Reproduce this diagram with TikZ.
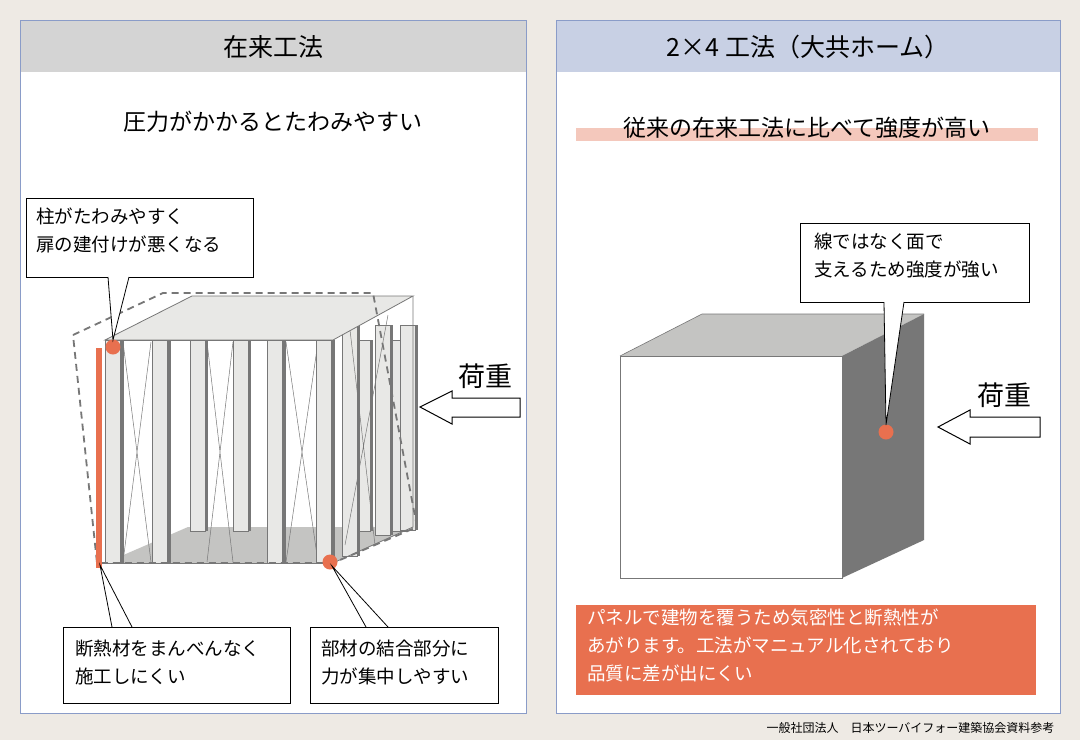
\documentclass[tikz,border=0pt]{standalone}
\usepackage{fontspec}
\setmainfont{Noto Sans CJK JP}
\usetikzlibrary{calc}
\definecolor{bgc}{HTML}{EEEAE4}
\definecolor{frm}{HTML}{8A9CC8}
\definecolor{hdl}{HTML}{D4D4D4}
\definecolor{hdr}{HTML}{C8D0E4}
\definecolor{acc}{HTML}{E8704F}
\definecolor{pnk}{HTML}{F4C8BC}
\definecolor{post}{HTML}{E8E8E6}
\definecolor{dpost}{HTML}{777777}
\definecolor{flr}{HTML}{C4C4C2}
\tikzset{
 callout/.style={draw=black,fill=white,line width=0.8pt},
 pst/.style={fill=post,draw=dpost,line width=0.6pt},
 dot/.style={circle,fill=acc,minimum size=15pt,inner sep=0pt},
 lbl/.style={font=\fontsize{18.5}{28}\selectfont,align=left,anchor=north west,inner sep=0pt},
}
\begin{document}
\begin{tikzpicture}[x=1pt,y=-1pt]
\fill[bgc] (0,0) rectangle (1080,740);
\useasboundingbox (0,0) rectangle (1080,740);
% panels
\fill[white] (20,20) rectangle (526,713);
\fill[hdl] (20,20) rectangle (526,72);
\draw[frm,line width=1pt] (20,20) rectangle (526,713);
\node (t1) at (273,47) {\fontsize{25}{28}\selectfont 在来工法};
\fill[white] (556,20) rectangle (1060,713);
\fill[hdr] (556,20) rectangle (1060,72);
\draw[frm,line width=1pt] (556,20) rectangle (1060,713);
\node (t2) at (808,47) {\fontsize{25}{28}\selectfont 2×4 工法（大共ホーム）};
\node (s1) at (273,122) {\fontsize{23}{26}\selectfont 圧力がかかるとたわみやすい};
\fill[pnk] (576,128) rectangle (1038,141);
\node (s2) at (807,128) {\fontsize{23}{26}\selectfont 従来の在来工法に比べて強度が高い};
% ===== left frame =====
\fill[flr] (105,563) -- (188,527) -- (413,527) -- (333,563) -- cycle;
\foreach \a in {190,233,355,392}{
 \fill[post] (\a,340) rectangle (\a+15,531); \draw[dpost,line width=0.6pt] (\a,340) rectangle (\a+15,531);
 \fill[dpost] (\a+15,340) rectangle (\a+18,531);}
\foreach \a/\b in {342/556,375/535,400/530}{
 \fill[post] (\a,325) rectangle (\a+15,\b); \draw[dpost,line width=0.6pt] (\a,325) rectangle (\a+15,\b);
 \fill[dpost] (\a+15,325) rectangle (\a+18,\b);}
\draw[dpost,line width=0.5pt] (345,545) -- (388,315) (350,330) -- (375,545);
\fill[post] (105,340) -- (192,296) -- (413,296) -- (333,340) -- cycle;
\draw[dpost,line width=0.8pt] (105,340) -- (192,296) -- (413,296) -- (333,340) -- cycle;
\draw[dpost,line width=0.8pt] (413,296) -- (413,527) -- (333,563);
\foreach \a/\b in {123/151,207/233,286/318}{
 \draw[dpost,line width=0.5pt] (\a,342) -- (\b,562) (\b,342) -- (\a,562);}
\foreach \a in {105,152,267,316}{
 \fill[post] (\a,340) rectangle (\a+15,563); \draw[dpost,line width=0.6pt] (\a,340) rectangle (\a+15,563);
 \fill[dpost] (\a+15,340) rectangle (\a+19,563);}
\draw[dpost,line width=0.8pt] (105,340) -- (333,340) (105,563) -- (333,563);
\draw[dpost,dashed,dash pattern=on 7pt off 5pt,line width=1.8pt]
 (73,335) -- (163,293) -- (373,293) -- (417,527) -- (333,563) -- (97,563) -- cycle;
\fill[acc] (96,348) rectangle (102,568);
\node[dot] (d1) at (113,347) {};
\node[dot] (d2) at (330,562) {};
\draw[fill=white,line width=1pt] (420,407) -- (452,391) -- (452,398) -- (520,398) -- (520,417) -- (452,417) -- (452,424) -- cycle;
\node (ld1) at (485,376) {\fontsize{27}{30}\selectfont 荷重};
% callouts left
\coordinate (c1) at (113,340);
\draw[callout] (26,198) rectangle (253,277);
\fill[white] (108,276.5) -- (c1) -- (129,276.5) -- cycle;
\draw[line width=0.8pt] (108,277) -- (c1) -- (129,277);
\node[lbl] (b1) at (36,208) {柱がたわみやすく\\扉の建付けが悪くなる};
\coordinate (c2) at (100,565);
\draw[callout] (63,627) rectangle (290,703);
\draw[line width=0.8pt] (112,627) -- (c2) -- (132,627);
\node[lbl] (b2) at (75,640) {断熱材をまんべんなく\\施工しにくい};
\coordinate (c3) at (332,566);
\draw[callout] (310,627) rectangle (498,703);
\draw[line width=0.8pt] (366,627) -- (c3) -- (388,627);
\node[lbl] (b3) at (321,640) {部材の結合部分に\\力が集中しやすい};
% ===== right cube =====
\fill[flr] (620,356) -- (702,314) -- (924,314) -- (842,356) -- cycle;
\draw[dpost,line width=0.6pt] (620,356) -- (702,314) -- (924,314);
\fill[white] (620,356) rectangle (842,578);
\draw[dpost,line width=0.6pt] (620,356) rectangle (842,578);
\fill[dpost] (842,356) -- (924,314) -- (924,540) -- (842,578) -- cycle;
\node[dot] (d3) at (886,432) {};
\coordinate (c4) at (886,425);
\draw[callout] (800,223) rectangle (1029,302);
\fill[white] (884,301.5) -- (c4) -- (904,301.5) -- cycle;
\draw[line width=0.8pt] (884,302) -- (c4) -- (904,302);
\node[lbl] (b4) at (814,233) {線ではなく面で\\支えるため強度が強い};
\draw[fill=white,line width=1pt] (938,427) -- (970,410) -- (970,417) -- (1040,417) -- (1040,437) -- (970,437) -- (970,444) -- cycle;
\node (ld2) at (1004,395) {\fontsize{27}{30}\selectfont 荷重};
\fill[acc] (576,605) rectangle (1036,695);
\node[lbl,text=white,font=\fontsize{18.5}{28}\selectfont] (b5) at (587,609) {パネルで建物を覆うため気密性と断熱性が\\あがります。工法がマニュアル化されており\\品質に差が出にくい};
\node[anchor=east,font=\fontsize{12}{14}\selectfont] (ft) at (1058,728) {一般社団法人　日本ツーバイフォー建築協会資料参考};
\end{tikzpicture}
\end{document}
